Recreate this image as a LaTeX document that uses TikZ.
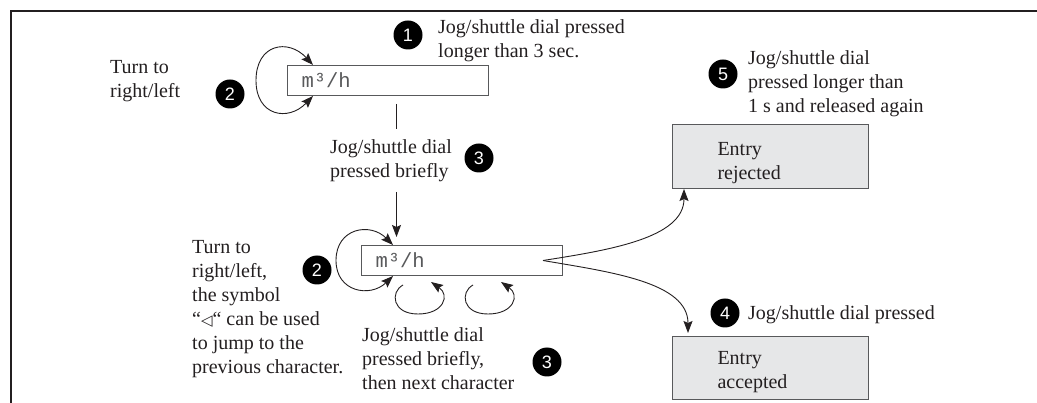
\documentclass[tikz,border=0pt]{standalone}
\usepackage{fontspec}
\setmainfont{Liberation Serif}
\setsansfont{Liberation Sans}
\setmonofont{Liberation Mono}
\newfontfamily\symfont{DejaVu Sans}
\usetikzlibrary{arrows.meta,calc}
\definecolor{ink}{HTML}{231F20}
\definecolor{boxline}{HTML}{58595B}
\definecolor{boxfill}{HTML}{E6E7E8}
\tikzset{
  lbl/.style={font=\fontsize{20}{24}\selectfont, text=ink, align=left, anchor=north west, inner sep=0pt, execute at begin node=\strut},
  num/.style={circle, fill=black, text=white, minimum size=29pt, inner sep=0pt, font=\sffamily\fontsize{18}{18}\selectfont},
  disp/.style={draw=boxline, line width=1pt, anchor=north west, minimum width=201pt, minimum height=30pt, text width=173pt, inner xsep=14pt, inner ysep=0pt, align=left, font=\ttfamily\fontsize{20.5}{24}\selectfont, text=boxline},
  entry/.style={draw=boxline, fill=boxfill, line width=1pt, anchor=north west, minimum width=196pt, text width=106pt, inner xsep=45pt, inner ysep=0pt, align=left, font=\fontsize{20}{24}\selectfont, text=ink},
  conn/.style={draw=ink, line width=0.9pt},
  tip/.tip={Stealth[length=12pt,width=9pt,inset=2pt]},
  arr/.style={-tip},
  dbl/.style={tip-tip},
}
\begin{document}
\begin{tikzpicture}[x=1pt,y=-1pt]
\useasboundingbox (0,0) rectangle (1037,403);
% frame
\draw[line width=2pt, ink] (1037,11) -- (11,11) -- (11,403);

% display boxes
\node[disp] (d1) at (287,65) {m³/h};
\node[disp] (d2) at (361,245) {m³/h};

% entry boxes
\node[entry, minimum height=64pt] (rej) at (672,124) {\rule{0pt}{27pt}Entry\\rejected};
\node[entry, minimum height=63pt] (acc) at (672,336) {\rule{0pt}{21pt}Entry\\accepted};

% numbers
\node[num] (n1) at (408,35) {1};
\node[num] (n2a) at (230,94) {2};
\node[num] (n3a) at (479,158) {3};
\node[num] (n5) at (723,74) {5};
\node[num] (n2b) at (317,270) {2};
\node[num] (n3b) at (547,362) {3};
\node[num] (n4) at (725,313) {4};

% labels
\node[lbl] (t1) at (438,19) {Jog/shuttle dial pressed\\longer than 3 sec.};
\node[lbl] (t2a) at (110,60) {Turn to\\right/left};
\node[lbl] (t3a) at (330,139) {Jog/shuttle dial\\pressed briefly};
\node[lbl] (t5) at (748,50) {Jog/shuttle dial\\pressed longer than\\1 s and released again};
\node[lbl] (t2b) at (192,240) {Turn to\\right/left,\\the symbol\\“{\symfont\fontsize{15}{24}\selectfont ◁}“ can be used\\to jump to the\\previous character.};
\node[lbl] (t3b) at (362,327) {Jog/shuttle dial\\pressed briefly,\\then next character};
\node[lbl] (t4) at (748,303) {Jog/shuttle dial pressed};

% loop around top display
\draw[conn,dbl] ([xshift=26pt]d1.north west) .. controls (288,38) and (256,44) .. ([xshift=-31pt]d1.west)
  .. controls (256,116) and (288,122) .. ([xshift=26pt]d1.south west);
% vertical connector top -> bottom display
\draw[conn] ([xshift=8.5pt,yshift=-8pt]d1.south) -- ([xshift=8.5pt,yshift=-33pt]d1.south);
\draw[conn,arr] ([xshift=-65.5pt,yshift=53pt]d2.north) -- ([xshift=-65.5pt,yshift=8pt]d2.north);

% loop around bottom display
\draw[conn,dbl] ([xshift=32pt]d2.north west) .. controls (370,222) and (336,228) .. ([xshift=-25pt]d2.west)
  .. controls (336,292) and (370,298) .. ([xshift=32pt]d2.south west);

% small loops below bottom display
\draw[conn,arr] ([xshift=42pt,yshift=-9pt]d2.south west) .. controls (390,292) and (392,314) .. (418,314)
  .. controls (444,314) and (450,295) .. ([xshift=70pt,yshift=-6pt]d2.south west);
\draw[conn,arr] ([xshift=112pt,yshift=-9pt]d2.south west) .. controls (460,292) and (462,314) .. (488,314)
  .. controls (514,314) and (520,295) .. ([xshift=140pt,yshift=-6pt]d2.south west);

% branches to entry boxes
\draw[conn,arr] ([xshift=-20pt]d2.east) .. controls (610,250) and (684,238) .. ([xshift=12pt]rej.south west);
\draw[conn,arr] ([xshift=-20pt]d2.east) .. controls (610,272) and (688,282) .. ([xshift=16pt,yshift=3pt]acc.north west);
\end{tikzpicture}
\end{document}
